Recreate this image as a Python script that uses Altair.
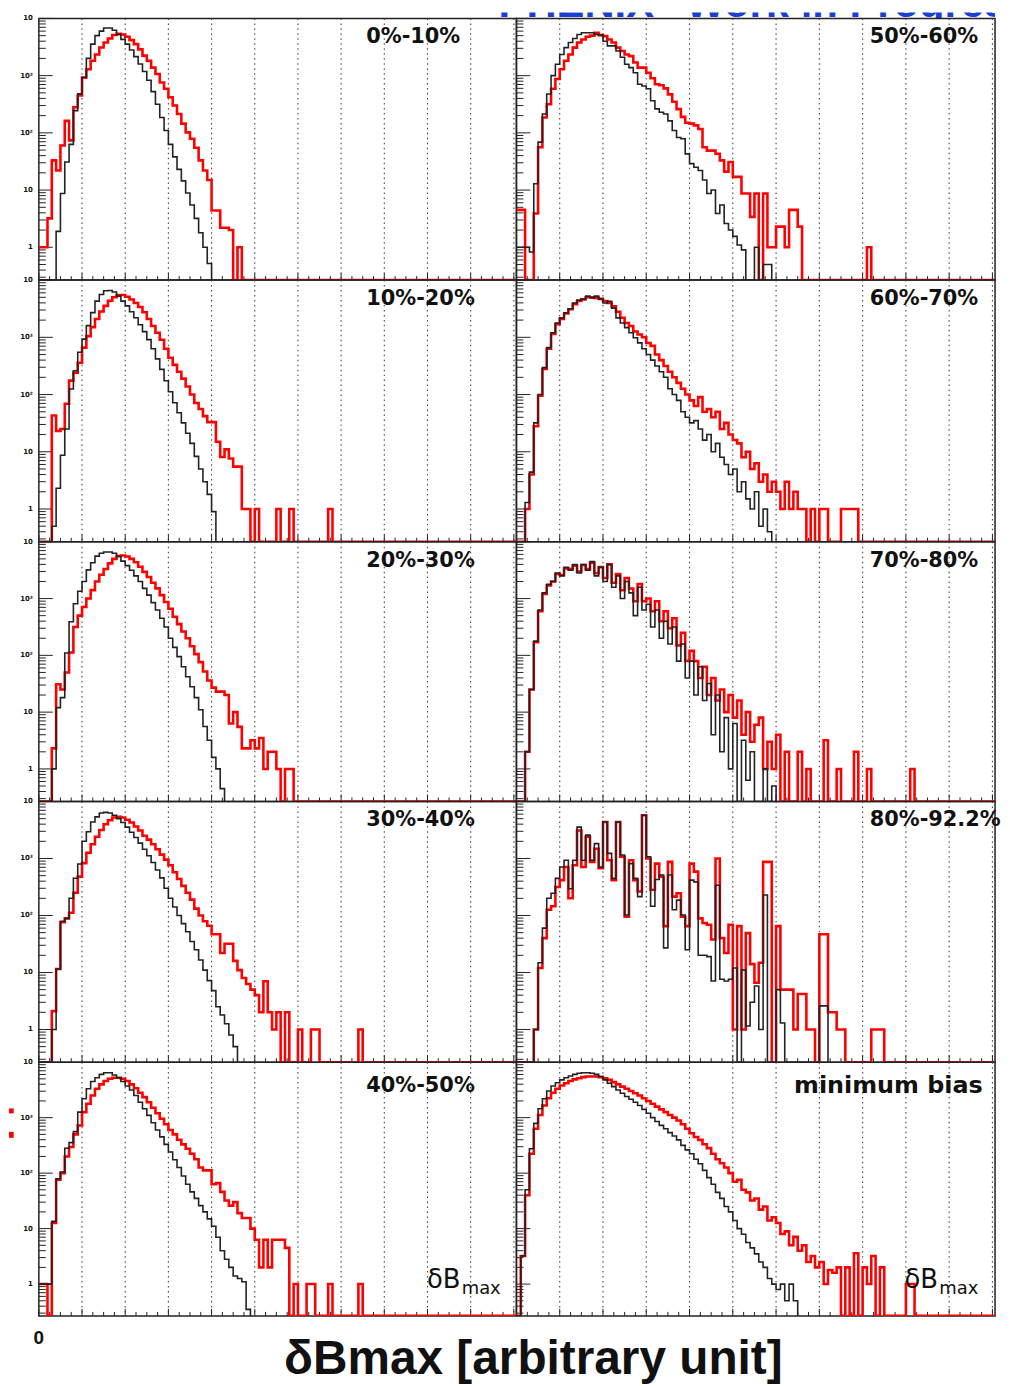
import altair as alt
import pandas as pd

# ---------------- histogram contents (counts per bin, bin 0 at the left edge) ----------------
black_0_10 = [0, 0, 0, 0, 1.9, 8.7, 31, 63, 245, 480, 930, 2000, 3550, 5000, 6000, 6800, 6800, 6200, 5250, 4300,
              3550, 2800, 2150, 1600, 1180, 830, 525, 316, 186, 110, 63, 38, 23, 14.5, 8.9, 5.5, 3.2, 1.8, 1.0, 0.52]
red_0_10 = [1, 1, 3.2, 33, 22, 60, 162, 74, 280, 450, 930, 1290, 1820, 2340, 3100, 3800, 4470, 5130, 5370, 5250,
            4790, 4170, 3550, 2880, 2240, 1820, 1380, 1070, 760, 590, 420, 300, 214, 145, 102, 79, 55, 33, 22, 15,
            4.4, 4.4, 2.2, 2.2, 2, 0, 1]

black_10_20 = [0, 0, 0, 0.5, 2.3, 8.7, 25, 125, 260, 550, 930, 1600, 2700, 4300, 5600, 6500, 6600, 6200, 5250, 4300,
               3550, 2800, 2200, 1660, 1260, 910, 630, 420, 275, 174, 112, 72, 48, 32, 21, 14, 8.3, 5, 3, 1.8, 0.9]
red_10_20 = [0, 0, 0, 43, 23, 25, 69, 175, 240, 360, 660, 1050, 1510, 2090, 2820, 3550, 4370, 5010, 5500, 5500,
             5130, 4570, 3980, 3390, 2750, 2090, 1580, 1200, 910, 630, 440, 330, 250, 190, 138, 100, 71, 56, 42, 33,
             33, 15, 8.1, 11, 7.6, 5.5, 5.5, 1, 1, 0, 1, 0, 0, 0, 0, 1, 0, 0, 1, 0,
             0, 0, 0, 0, 0, 0, 0, 1]

black_20_30 = [0, 0, 0, 1.0, 12, 18, 110, 390, 810, 1350, 2000, 3200, 4270, 5600, 6300, 6600, 6600, 6300, 5500, 4570,
               3800, 3160, 2510, 2000, 1510, 1150, 850, 630, 450, 316, 200, 138, 95, 63, 42, 28, 18, 11, 5.6, 3.2,
               1.6, 1.0, 0.45]
red_20_30 = [0, 0, 0, 2.3, 31, 25, 50, 112, 316, 500, 710, 1000, 1410, 2000, 2630, 3310, 4170, 5010, 5620, 5750,
             5500, 5010, 4370, 3630, 2950, 2400, 1900, 1510, 1150, 870, 660, 480, 355, 263, 200, 145, 105, 76, 52, 36,
             27, 23, 23, 20, 6.3, 10, 5.5, 2.3, 2.3, 3.2, 2.3, 3.5, 1, 2, 2, 1, 0, 1, 1]

black_30_40 = [0, 0, 0, 1.0, 11.5, 79, 89, 200, 450, 800, 2000, 2950, 4370, 5370, 6300, 6450, 6300, 5750, 5010, 4270,
               3550, 2880, 2340, 1860, 1450, 1120, 850, 630, 457, 300, 200, 141, 100, 72, 52, 35, 25, 16.6, 11, 7.2,
               4.8, 2.5, 1.8, 1.26, 0.8, 0.5]
red_30_40 = [0, 0, 0, 2.1, 11.5, 76, 89, 112, 250, 480, 830, 1260, 1780, 2400, 3160, 3980, 4680, 5250, 5370, 5250,
             4790, 4270, 3630, 3090, 2510, 2140, 1780, 1450, 1170, 955, 760, 575, 437, 331, 251, 190, 132, 100, 79, 66,
             47, 47, 22, 32, 32, 16, 11, 8, 6.3, 5, 4, 2, 7, 2, 1, 2, 0, 2, 0, 0,
             1, 0, 0, 1, 1, 0, 0, 0, 0, 0, 0, 0, 0, 0, 1]

black_40_50 = [1, 1, 1, 13.5, 79, 105, 280, 355, 560, 1260, 2190, 3310, 4470, 5250, 6030, 6460, 6460, 5890, 5250, 4470,
               3720, 3160, 2510, 1900, 1450, 1100, 810, 600, 450, 330, 240, 174, 126, 89, 63, 46, 35, 26, 20, 15,
               11, 7, 4, 2.8, 2, 1.4, 1.26, 1.1, 0.35]
red_40_50 = [1, 1, 0, 12.6, 76, 100, 200, 295, 500, 720, 1260, 1780, 2510, 3310, 3980, 4570, 5010, 5250, 5250, 5010,
             4570, 3980, 3390, 2820, 2340, 1900, 1510, 1200, 955, 760, 600, 500, 400, 330, 275, 224, 178, 126, 112, 112,
             63, 66, 46, 32, 26, 30, 19, 15.5, 15.5, 10, 6.3, 2, 6.3, 2, 6.3, 6.3, 6.3, 4.5, 0, 1,
             0, 0, 1, 1, 0, 0, 0, 1, 0, 0, 0, 0, 0, 0, 1]

black_50_60 = [1, 1, 1, 0.83, 12.9, 69, 214, 479, 1000, 1585, 2340, 3090, 3800, 4470, 5250, 5620, 5620, 5620, 5250, 5130,
               3980, 3310, 3310, 2690, 2090, 1585, 1380, 1120, 708, 660, 589, 363, 263, 229, 214, 162, 110, 83, 79, 43,
               29, 25, 22, 15, 8.7, 10, 3.9, 5.5, 2.6, 2, 1.55, 1.1, 0.9, 0, 0, 1, 0, 0.5, 0.5]
red_50_60 = [4.5, 4.5, 0, 0, 3.9, 56, 186, 316, 589, 871, 1290, 1820, 2340, 3090, 3800, 4270, 4790, 5010, 5620, 5100,
             4900, 4270, 3800, 3090, 2690, 2340, 2190, 1700, 1380, 1380, 1120, 900, 708, 680, 600, 470, 350, 260, 190, 150,
             145, 135, 117, 56, 49, 49, 43, 33, 21, 31, 17, 17, 8.7, 8.7, 3.4, 8.7, 0, 8.7, 1, 1,
             2.3, 2.3, 1, 4.5, 4.5, 2.3, 0, 0, 0, 0, 0, 0, 0, 0, 0, 0, 0, 0, 0, 0, 0, 1]

black_60_70 = [0, 0, 1.3, 4.4, 32, 100, 295, 660, 1200, 1780, 2190, 2690, 3160, 3980, 4470, 4680, 5250, 4900, 5250, 4680,
               3980, 4270, 3240, 2190, 1780, 1480, 1200, 980, 800, 630, 500, 400, 316, 250, 200, 126, 100, 79, 50, 40,
               32, 35, 25, 16, 20, 10, 14, 8, 6, 4, 5, 2, 3, 1.5, 1, 2, 0.5, 1, 0.4]
red_60_70 = [0, 0, 1, 4, 28, 95, 280, 630, 1150, 1700, 2100, 2600, 3100, 3800, 4300, 4600, 5000, 5000, 4900, 4700,
             4300, 4000, 3500, 2800, 2200, 1780, 1580, 1260, 1120, 1000, 794, 708, 500, 400, 316, 250, 200, 160, 126, 100,
             79, 63, 90, 50, 56, 40, 50, 25, 32, 20, 16, 14, 8, 10, 5, 6.3, 3, 4, 2, 3,
             2, 1, 3, 1, 2, 1, 1, 0, 1, 0, 1, 1, 0, 0, 0, 1, 1, 1, 1]

black_70_80 = [0, 0, 2, 25, 178, 630, 1260, 1780, 2000, 2820, 2510, 3550, 3160, 3980, 2820, 3980, 3160, 4470, 2510, 3550,
               2000, 3980, 1580, 2510, 1000, 2000, 1260, 500, 1580, 630, 794, 316, 630, 200, 398, 158, 316, 79, 158, 40,
               79, 20, 63, 16, 32, 4, 20, 2, 8, 1, 6.3, 0, 3.2, 0.63, 2, 0, 0, 1, 0, 0.5]
red_70_80 = [0, 0, 2, 25, 170, 600, 1200, 1700, 2000, 2700, 2600, 3400, 3300, 3800, 3000, 3900, 3300, 4300, 2800, 3600,
             2300, 4000, 1900, 2700, 1400, 2300, 1500, 900, 1800, 900, 1000, 600, 900, 400, 600, 300, 450, 150, 250, 80,
             120, 79, 40, 63, 20, 40, 16, 25, 10, 20, 8, 16, 4, 10, 3, 6, 8, 1, 3, 1,
             4, 0, 2, 0, 0, 2, 0, 1, 0, 0, 0, 3.2, 0, 0, 1, 0, 0, 0, 2, 0,
             0, 1, 0, 0, 0, 0, 0, 0, 0, 0, 0, 1]

black_80_92 = [0, 0, 0, 0, 1, 14.8, 60, 200, 245, 447, 708, 933, 295, 933, 3550, 933, 2570, 933, 1820, 708,
               4370, 1230, 447, 4370, 1150, 102, 813, 447, 214, 5750, 1070, 145, 427, 513, 27, 513, 126, 186, 102, 25,
               417, 389, 20, 20, 19, 7.1, 340, 7.6, 7.1, 7.6, 12, 0, 11, 1.15, 3, 5.8, 1, 229, 0, 0,
               5, 1.3, 0, 0, 0, 0, 0, 0, 0, 0, 2.6, 2.6]
red_80_92 = [0, 0, 0, 0, 1, 12, 40, 126, 145, 316, 417, 708, 200, 759, 3090, 708, 2400, 871, 1480, 676,
             4370, 933, 417, 4370, 1070, 95, 933, 417, 263, 5750, 1000, 282, 813, 479, 65, 871, 214, 245, 95, 65,
             813, 589, 89, 74, 69, 38, 1000, 40, 22, 69, 1, 65, 1, 49, 14, 6.6, 14.8, 871, 871, 0,
             65, 5, 5, 5, 1, 4.2, 4.2, 1, 1, 0, 47, 47, 2, 2, 1, 1, 0, 0, 0, 0,
             0, 0, 1, 1, 1]

black_mb = [0, 3.2, 50, 275, 790, 1450, 2190, 3020, 3720, 4270, 4790, 5250, 5620, 6030, 6310, 6460, 6460, 6310, 6030, 5500,
            4790, 4170, 3630, 3160, 2750, 2400, 2140, 1900, 1660, 1410, 1200, 1000, 850, 725, 630, 537, 468, 398, 316, 263,
            224, 178, 148, 112, 83, 63, 45, 35, 25, 20, 14, 10, 7.9, 5.6, 4.5, 3.5, 2.5, 2, 1.26, 1,
            0.8, 1, 0.5, 1, 0.5]
red_mb = [0, 3.2, 40, 224, 630, 1120, 1660, 2240, 2820, 3310, 3800, 4170, 4570, 4900, 5130, 5370, 5500, 5500, 5500, 5370,
          5130, 4790, 4370, 3980, 3630, 3310, 3020, 2750, 2510, 2240, 2000, 1780, 1580, 1410, 1260, 1120, 1000, 891, 759, 631,
          525, 447, 398, 331, 282, 224, 178, 151, 126, 100, 70, 76, 50, 45, 32, 35, 22, 25, 14, 16,
          12.6, 8, 8.9, 5, 7.1, 4, 5, 2.5, 3.2, 2, 2.5, 1, 1.8, 1.6, 2, 0, 2, 0, 3.6, 0,
          2, 1, 3.2, 0, 2, 0, 0, 0, 0, 0, 1, 1]

panel_labels = [["0%-10%", "50%-60%"], ["10%-20%", "60%-70%"], ["20%-30%", "70%-80%"],
                ["30%-40%", "80%-92.2%"], ["40%-50%", "minimum bias"]]
panel_data = [[(black_0_10, red_0_10), (black_50_60, red_50_60)],
              [(black_10_20, red_10_20), (black_60_70, red_60_70)],
              [(black_20_30, red_20_30), (black_70_80, red_70_80)],
              [(black_30_40, red_30_40), (black_80_92, red_80_92)],
              [(black_40_50, red_40_50), (black_mb, red_mb)]]

title_text = 'PHENIX "Work in Progress"'
xlabel_text = "δBmax [arbitrary unit]"

# axis furniture
grid_bins = [10, 20, 30, 40, 50, 60, 70, 80, 90, 100, 110]
x_major_bins = [0, 10, 20, 30, 40, 50, 60, 70, 80, 90, 100, 110]
x_minor_bins = [2.5 * k for k in range(45) if k % 4]
y_major_ticks = [1, 10, 100, 1000, 10000]
y_minor_ticks = [m * 10 ** e for e in range(-1, 4) for m in range(2, 10) if m * 10 ** e >= 0.3]
y_label_values = [1, 10, 100, 1000, 10000]
y_label_texts = ["1", "10", "10²", "10³", "10"]

XMAX = 110.6
YMIN, YMAX = 0.267, 10000
row_heights = [263, 263, 261, 262, 255]
col_widths = [480, 481]

xs = alt.Scale(domain=[0, XMAX], nice=False, zero=False)
ys = alt.Scale(type="log", domain=[YMIN, YMAX], nice=False)
NOFRAME = alt.ViewBackground(stroke="transparent")


def hist_frame(counts, extend):
    xv, yv = [], []
    for i, c in enumerate(counts):
        xv.append(i)
        yv.append(c if c > 0 else YMIN)
    xv.append(len(counts))
    yv.append(YMIN)
    if extend:
        xv.append(XMAX)
        yv.append(YMIN)
    return pd.DataFrame({"x": xv, "y": yv})


def panel(black, red, label, w, h, left, last_row):
    X = lambda f: alt.X(f, scale=xs, axis=None)
    Y = lambda f: alt.Y(f, scale=ys, axis=None)
    layers = []
    layers.append(alt.Chart(pd.DataFrame({"g": grid_bins})).mark_rule(
        color="#444", strokeDash=[1.5, 3.5], strokeWidth=1.1).encode(x=X("g:Q")))
    layers.append(alt.Chart(pd.DataFrame({"t": x_major_bins})).mark_rule(color="#222", strokeWidth=1).encode(
        x=X("t:Q"), y=alt.value(h), y2=alt.value(h - 7)))
    layers.append(alt.Chart(pd.DataFrame({"t": x_minor_bins})).mark_rule(color="#222", strokeWidth=1).encode(
        x=X("t:Q"), y=alt.value(h), y2=alt.value(h - 4)))
    layers.append(alt.Chart(pd.DataFrame({"v": y_major_ticks})).mark_rule(color="#222", strokeWidth=1).encode(
        y=Y("v:Q"), x=alt.value(0), x2=alt.value(14)))
    layers.append(alt.Chart(pd.DataFrame({"v": y_minor_ticks})).mark_rule(color="#222", strokeWidth=1).encode(
        y=Y("v:Q"), x=alt.value(0), x2=alt.value(7)))
    layers.append(alt.Chart(hist_frame(red, True)).mark_line(
        interpolate="step-after", color="#ff0000", strokeWidth=2.6, clip=True).encode(x=X("x:Q"), y=Y("y:Q")))
    layers.append(alt.Chart(hist_frame(black, False)).mark_line(
        interpolate="step-after", color="#222222", strokeWidth=1.6, clip=True).encode(x=X("x:Q"), y=Y("y:Q")))
    if left:
        lx = 329
    else:
        lx = 279 if label == "minimum bias" else 355
    ly = 24 if last_row else 19
    layers.append(alt.Chart(pd.DataFrame({"t": [label]})).mark_text(
        align="left", baseline="middle", font="DejaVu Sans", fontWeight="bold",
        fontSize=24 if label == "minimum bias" else 21, color="#111").encode(
        x=alt.value(lx), y=alt.value(ly), text="t:N"))
    if left:
        layers.append(alt.Chart(pd.DataFrame({"v": y_label_values, "lab": y_label_texts})).mark_text(
            align="right", baseline="middle", font="DejaVu Sans", fontWeight="bold", fontSize=7,
            color="#111").encode(y=Y("v:Q"), x=alt.value(-6), text="lab:N"))
    if last_row:
        layers.append(alt.Chart(pd.DataFrame({"t": ["δB"]})).mark_text(
            align="left", baseline="alphabetic", font="DejaVu Sans", fontSize=26, color="#111").encode(
            x=alt.value(390), y=alt.value(227), text="t:N"))
        layers.append(alt.Chart(pd.DataFrame({"t": ["max"]})).mark_text(
            align="left", baseline="alphabetic", font="DejaVu Sans", fontSize=18, color="#111").encode(
            x=alt.value(425), y=alt.value(233), text="t:N"))
        if left:
            one = pd.DataFrame({"k": [0]})
            layers.append(alt.Chart(one).mark_rect(color="#ff0000").encode(
                x=alt.value(-30), x2=alt.value(-25.3), y=alt.value(46.5), y2=alt.value(51.5)))
            layers.append(alt.Chart(one).mark_rect(color="#ff0000").encode(
                x=alt.value(-30), x2=alt.value(-25.3), y=alt.value(70), y2=alt.value(76)))
    return alt.layer(*layers).properties(width=w, height=h)


def title_cell(offset, w):
    # the slide title runs across both columns; each cell shows its own part of it
    return alt.Chart(pd.DataFrame({"t": [title_text]})).mark_text(
        align="left", baseline="alphabetic", font="Liberation Sans", fontWeight="bold", fontSize=42,
        color="#1b3fd0", clip=True).encode(x=alt.value(462 - offset), y=alt.value(5), text="t:N").properties(
        width=w, height=6, view=NOFRAME)


def bottom_cell(offset, w, with_zero):
    layers = [alt.Chart(pd.DataFrame({"t": [xlabel_text]})).mark_text(
        align="center", baseline="alphabetic", font="Liberation Sans", fontWeight="bold", fontSize=48,
        color="#111", clip=True).encode(x=alt.value(497 - offset), y=alt.value(58), text="t:N")]
    if with_zero:
        layers.append(alt.Chart(pd.DataFrame({"t": ["0"]})).mark_text(
            align="center", baseline="alphabetic", font="Liberation Sans", fontWeight="bold", fontSize=19,
            color="#111").encode(x=alt.value(0), y=alt.value(28), text="t:N"))
    return alt.layer(*layers).properties(width=w, height=70, view=NOFRAME)


cells = [title_cell(0, col_widths[0]), title_cell(col_widths[0], col_widths[1])]
for r in range(5):
    for c in range(2):
        b, rd = panel_data[r][c]
        cells.append(panel(b, rd, panel_labels[r][c], col_widths[c], row_heights[r], c == 0, r == 4))
cells += [bottom_cell(0, col_widths[0], True), bottom_cell(col_widths[0], col_widths[1], False)]

chart = alt.concat(*cells, columns=2, spacing=0, bounds="flush").properties(
    padding=0, background="white").configure_view(stroke="#222", strokeWidth=1.5)

chart.save("out.html", embed_options={"renderer": "svg", "actions": False})
